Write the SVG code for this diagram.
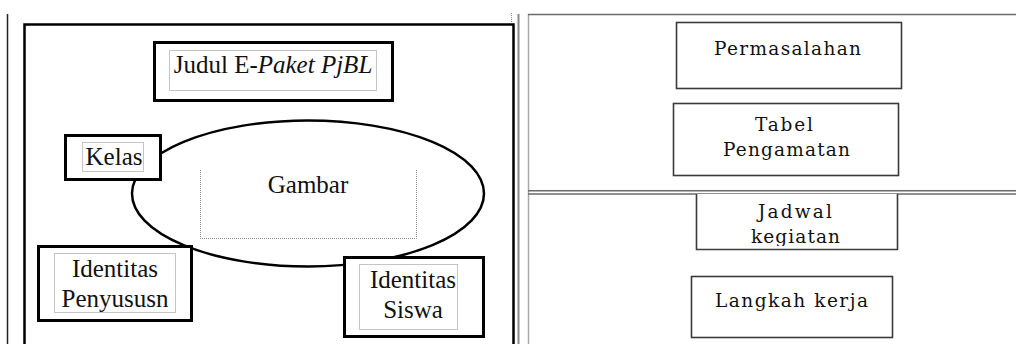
<svg xmlns="http://www.w3.org/2000/svg" width="1016" height="344" viewBox="0 0 1016 344">
  <style>
    .bg { fill: #ffffff; }
    .frame { fill: none; stroke: #000; stroke-width: 2.5; }
    .box { fill: #ffffff; stroke: #000; stroke-width: 3; }
    .dot { fill: none; stroke: #8a8a8a; stroke-width: 1; stroke-dasharray: 1 1; }
    .oval { fill: #ffffff; stroke: #000; stroke-width: 2.5; }
    .lbl { font-family: "Liberation Serif", "Times New Roman", serif; font-size: 25px; fill: #111; }
    .card { fill: #ffffff; stroke: #3a3a3a; stroke-width: 1.6; }
    .sm { font-family: "DejaVu Serif", "Liberation Serif", serif; font-size: 18.5px; fill: #111; }
    .rule { stroke: #6a6a6a; stroke-width: 1.5; fill: none; }
    .rule-lt { stroke: #a8a8a8; stroke-width: 1.5; fill: none; }
  </style>
  <defs>
    <clipPath id="jadwalClip">
      <rect x="690" y="194" width="215" height="52"/>
    </clipPath>
  </defs>

  <rect class="bg" x="0" y="0" width="1016" height="344"/>

  <!-- page guide lines -->
  <g id="page-rules">
    <line x1="7.5" y1="14" x2="7.5" y2="344" stroke="#222" stroke-width="1.5"/>
    <line x1="511.5" y1="13" x2="511.5" y2="23" class="dot" stroke="#555"/>
    <line x1="518.5" y1="14" x2="518.5" y2="344" stroke="#8a8a8a" stroke-width="2"/>
    <line class="rule-lt" x1="528.5" y1="14" x2="528.5" y2="344"/>
    <line class="rule" x1="528" y1="14.5" x2="1016" y2="14.5"/>
    <line class="rule" x1="528" y1="190.7" x2="1016" y2="190.7"/>
    <line class="rule" x1="528" y1="194" x2="1016" y2="194"/>
  </g>

  <!-- cover layout frame -->
  <path class="frame" d="M24.5,344 V24.5 H513.5 V344"/>

  <g id="gambar">
    <ellipse class="oval" cx="308" cy="193.5" rx="176" ry="73"/>
    <path class="dot" d="M200.5,170 V238.5 H416.5 V170"/>
    <text class="lbl" x="308" y="193" text-anchor="middle">Gambar</text>
  </g>

  <g id="judul">
    <rect class="box" x="154.5" y="42.5" width="238" height="58"/>
    <rect class="dot" x="169.5" y="50.5" width="207" height="40"/>
    <text class="lbl" x="273" y="73" text-anchor="middle">Judul E-<tspan font-style="italic">Paket PjBL</tspan></text>
  </g>

  <g id="kelas">
    <rect class="box" x="65.5" y="135.5" width="95" height="44"/>
    <rect class="dot" x="82.5" y="142.5" width="61" height="29"/>
    <text class="lbl" x="114" y="165" text-anchor="middle">Kelas</text>
  </g>

  <g id="identitas-penyusun">
    <rect class="box" x="38.5" y="246.5" width="153" height="74"/>
    <rect class="dot" x="54.5" y="253.5" width="121" height="59"/>
    <text class="lbl" text-anchor="middle"><tspan x="115" y="277">Identitas</tspan><tspan x="115" y="307">Penyususn</tspan></text>
  </g>

  <g id="identitas-siswa">
    <rect class="box" x="344.5" y="257.5" width="139" height="79"/>
    <rect class="dot" x="359.5" y="264.5" width="98" height="65"/>
    <text class="lbl" text-anchor="middle"><tspan x="413" y="288">Identitas</tspan><tspan x="413" y="318">Siswa</tspan></text>
  </g>

  <!-- content pages -->
  <g id="permasalahan">
    <rect class="card" x="676.5" y="22.5" width="225" height="66"/>
    <text class="sm" x="714" y="55" textLength="147">Permasalahan</text>
  </g>

  <g id="tabel-pengamatan">
    <rect class="card" x="673.5" y="103.5" width="225" height="72"/>
    <text class="sm" x="755" y="131" textLength="58">Tabel</text>
    <text class="sm" x="723" y="156" textLength="127">Pengamatan</text>
  </g>

  <g id="jadwal-kegiatan">
    <path class="card" fill="none" d="M696.5,194 V249.5 H897.5 V194"/>
    <g clip-path="url(#jadwalClip)">
      <text class="sm" x="758" y="218" textLength="74">Jadwal</text>
      <text class="sm" x="751" y="243" textLength="89">kegiatan</text>
    </g>
  </g>

  <g id="langkah-kerja">
    <rect class="card" x="691.5" y="276.5" width="201" height="61"/>
    <text class="sm" x="715" y="307" textLength="153">Langkah kerja</text>
  </g>

  <g id="connectors"></g>
</svg>
